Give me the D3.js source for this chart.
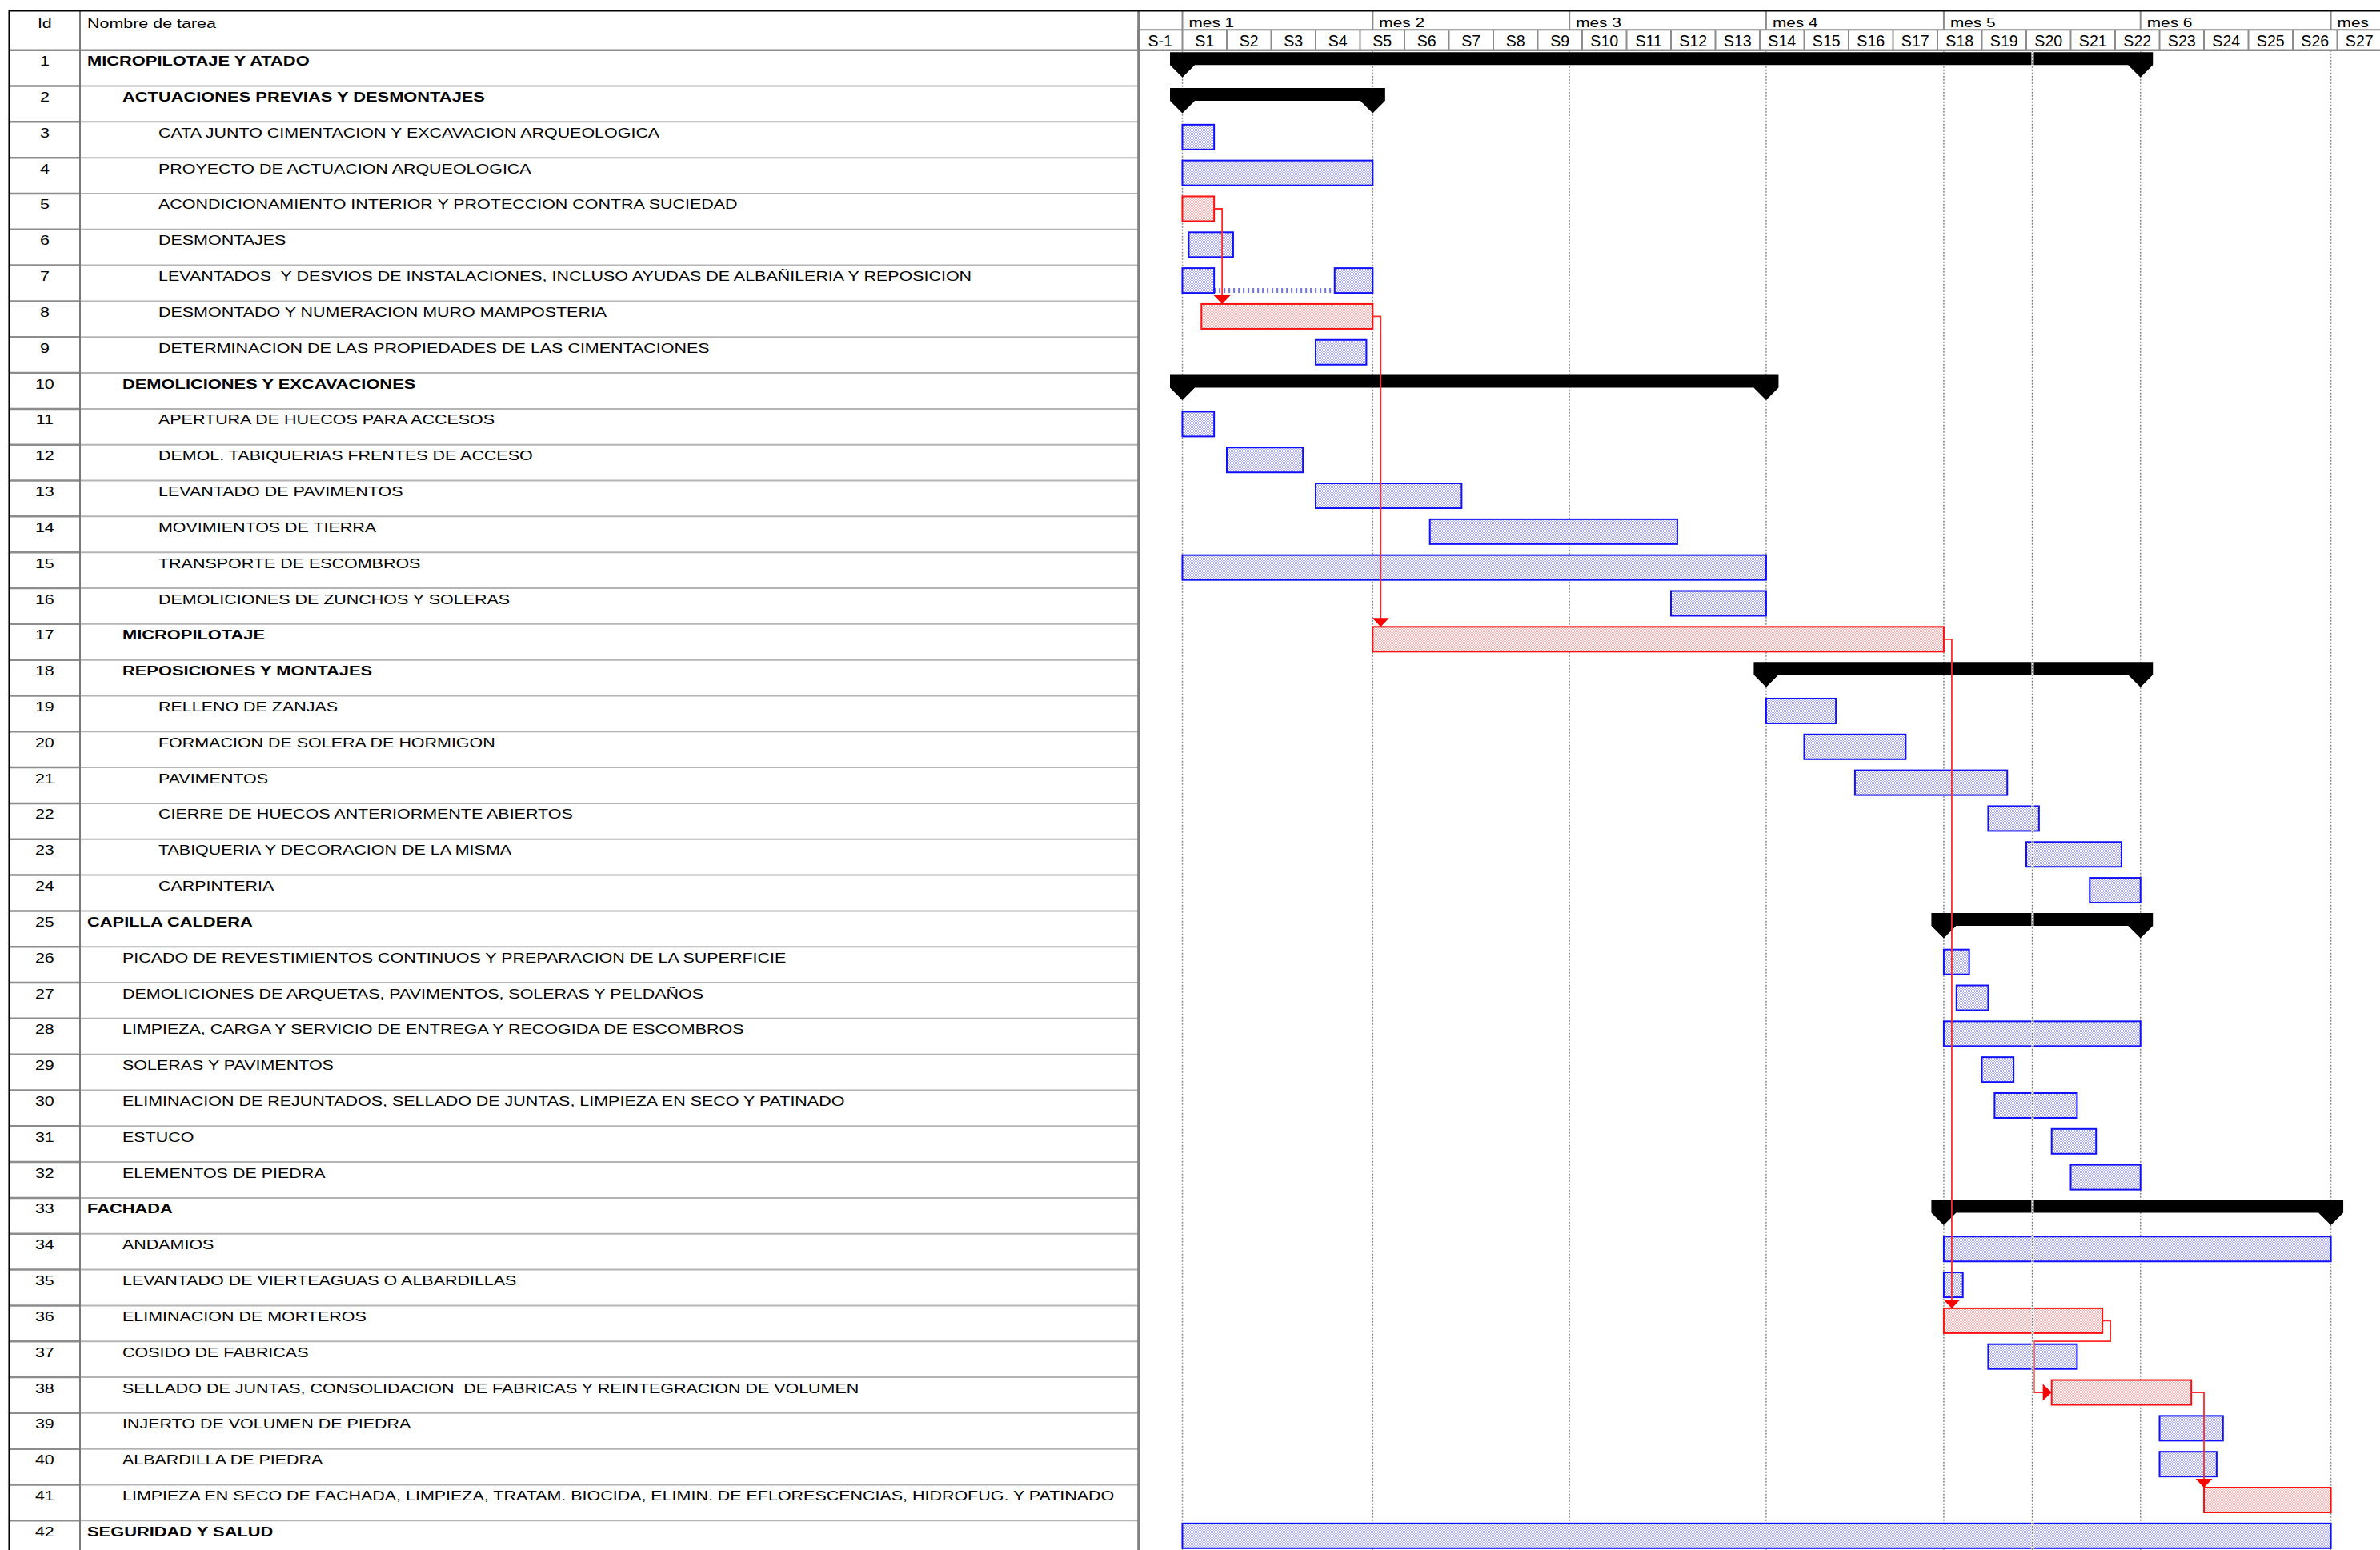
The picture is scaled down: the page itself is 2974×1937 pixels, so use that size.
<!DOCTYPE html>
<html>
<head>
<meta charset="utf-8">
<script src="https://cdn.jsdelivr.net/npm/d3@7"></script>
<style>
  html, body { margin: 0; padding: 0; background: #fff; }
  svg { display: block; }
  text { font-family: "Liberation Sans", Arial, sans-serif; fill: #000; white-space: pre; }
</style>
</head>
<body>
<div id="chart"></div>
<script>
// ---- data (days counted from start of S1) ----
const taskNames = [
  'MICROPILOTAJE Y ATADO',
  'ACTUACIONES PREVIAS Y DESMONTAJES',
  'CATA JUNTO CIMENTACION Y EXCAVACION ARQUEOLOGICA',
  'PROYECTO DE ACTUACION ARQUEOLOGICA',
  'ACONDICIONAMIENTO INTERIOR Y PROTECCION CONTRA SUCIEDAD',
  'DESMONTAJES',
  'LEVANTADOS  Y DESVIOS DE INSTALACIONES, INCLUSO AYUDAS DE ALBAÑILERIA Y REPOSICION',
  'DESMONTADO Y NUMERACION MURO MAMPOSTERIA',
  'DETERMINACION DE LAS PROPIEDADES DE LAS CIMENTACIONES',
  'DEMOLICIONES Y EXCAVACIONES',
  'APERTURA DE HUECOS PARA ACCESOS',
  'DEMOL. TABIQUERIAS FRENTES DE ACCESO',
  'LEVANTADO DE PAVIMENTOS',
  'MOVIMIENTOS DE TIERRA',
  'TRANSPORTE DE ESCOMBROS',
  'DEMOLICIONES DE ZUNCHOS Y SOLERAS',
  'MICROPILOTAJE',
  'REPOSICIONES Y MONTAJES',
  'RELLENO DE ZANJAS',
  'FORMACION DE SOLERA DE HORMIGON',
  'PAVIMENTOS',
  'CIERRE DE HUECOS ANTERIORMENTE ABIERTOS',
  'TABIQUERIA Y DECORACION DE LA MISMA',
  'CARPINTERIA',
  'CAPILLA CALDERA',
  'PICADO DE REVESTIMIENTOS CONTINUOS Y PREPARACION DE LA SUPERFICIE',
  'DEMOLICIONES DE ARQUETAS, PAVIMENTOS, SOLERAS Y PELDAÑOS',
  'LIMPIEZA, CARGA Y SERVICIO DE ENTREGA Y RECOGIDA DE ESCOMBROS',
  'SOLERAS Y PAVIMENTOS',
  'ELIMINACION DE REJUNTADOS, SELLADO DE JUNTAS, LIMPIEZA EN SECO Y PATINADO',
  'ESTUCO',
  'ELEMENTOS DE PIEDRA',
  'FACHADA',
  'ANDAMIOS',
  'LEVANTADO DE VIERTEAGUAS O ALBARDILLAS',
  'ELIMINACION DE MORTEROS',
  'COSIDO DE FABRICAS',
  'SELLADO DE JUNTAS, CONSOLIDACION  DE FABRICAS Y REINTEGRACION DE VOLUMEN',
  'INJERTO DE VOLUMEN DE PIEDRA',
  'ALBARDILLA DE PIEDRA',
  'LIMPIEZA EN SECO DE FACHADA, LIMPIEZA, TRATAM. BIOCIDA, ELIMIN. DE EFLORESCENCIAS, HIDROFUG. Y PATINADO',
  'SEGURIDAD Y SALUD'
]
const taskLevels = [0,1,2,2,2,2,2,2,2,1,2,2,2,2,2,2,1,1,2,2,2,2,2,2,0,1,1,1,1,1,1,1,0,1,1,1,1,1,1,1,1,0]
// s = summary, t = task, c = critical task
const taskKinds = ['s','s','t','t','c','t','t','c','t','s','t','t','t','t','t','t','c','s','t','t','t','t','t','t',
  's','t','t','t','t','t','t','t','s','t','t','c','t','c','t','t','c','t']
const boldIds = [1, 2, 10, 17, 18, 25, 33, 42]
const taskStart = [0,0,0,0,0,1,0,3,21,0,0,7,21,39,0,77,30,92,92,98,106,127,133,143,
  120,120,122,120,126,128,137,140,120,120,120,120,127,137,154,154,161,0]
const taskEnd = [151,30,5,30,5,8,30,30,29,92,5,19,44,78,92,92,120,151,103,114,130,135,148,151,
  151,124,127,151,131,141,144,151,181,181,123,145,141,159,164,163,181,181]
const splitTask = 7
const splitSegments = [[0, 5], [24, 30]]
const links = [[5, 8, 'down'], [8, 17, 'down'], [17, 36, 'down'], [36, 38, 'wrap'], [38, 41, 'down']]

const weekLabels = ['S-1','S1','S2','S3','S4','S5','S6','S7','S8','S9','S10','S11','S12','S13','S14',
  'S15','S16','S17','S18','S19','S20','S21','S22','S23','S24','S25','S26','S27']
const monthLabels = ['mes 1','mes 2','mes 3','mes 4','mes 5','mes 6','mes']
const monthStarts = [0, 30, 61, 92, 120, 151, 181]
const statusDay = 134

// ---- layout ----
const W = 2974, H = 1937
const topY = 13.3, midY = 37.3, headY = 62.7, rowH = 44.82
const leftX = 11.7, idX = 100, splitX = 1422.7
const fs = 16.4, sx = 1.27
const rowFs = 17.2, rowSx = 1.248, boldSx = 1.272
const indent = [109, 153, 198]

const x = d3.scaleLinear().domain([-7, 189]).range([1422, 2976])
const rowTop = i => headY + (i - 1) * rowH

const svg = d3.select('#chart').append('svg')
  .attr('width', W).attr('height', H)

const defs = svg.append('defs')
const pat = (id, c) => {
  const p = defs.append('pattern').attr('id', id).attr('width', 2).attr('height', 2)
    .attr('patternUnits', 'userSpaceOnUse')
  p.append('rect').attr('width', 2).attr('height', 2).attr('fill', '#fff')
  p.append('rect').attr('width', 1).attr('height', 1).attr('fill', c)
  p.append('rect').attr('x', 1).attr('y', 1).attr('width', 1).attr('height', 1).attr('fill', c)
}
pat('pBlue', '#a9a9ff')
pat('pRed', '#ffacac')
defs.append('clipPath').attr('id', 'clipT').append('rect')
  .attr('x', splitX).attr('y', 0).attr('width', W - splitX).attr('height', H)

const label = (g, str, tx, ty, opt = {}) => g.append('text')
  .attr('transform', `translate(${tx},${ty}) scale(${opt.sx || sx},1)`)
  .attr('text-anchor', opt.anchor || 'start')
  .attr('font-size', opt.fs || fs)
  .attr('font-weight', opt.bold ? 'bold' : 'normal')
  .text(str)

const chart = svg.append('g').attr('clip-path', 'url(#clipT)')

// month gridlines
chart.append('g').selectAll('line').data(monthStarts).join('line')
  .attr('x1', d => x(d)).attr('x2', d => x(d))
  .attr('y1', headY).attr('y2', H)
  .attr('stroke', '#8a8a8a').attr('stroke-width', 1.5).attr('stroke-dasharray', '2,2')

// bars
const tasks = taskNames.map((n, i) => ({
  id: i + 1, name: n, level: taskLevels[i], kind: taskKinds[i], start: taskStart[i], end: taskEnd[i]
}))

const summaryPath = (x1, x2, t) => {
  const cw = 15.5, ch = 16, tip = 31.5
  return `M${x1 - cw},${t}H${x2 + cw}V${t + ch}L${x2},${t + tip}L${x2 - cw},${t + ch}` +
    `H${x1 + cw}L${x1},${t + tip}L${x1 - cw},${t + ch}Z`
}

const bars = chart.append('g')
tasks.forEach(d => {
  const t = rowTop(d.id)
  if (d.kind === 's') {
    bars.append('path').attr('d', summaryPath(x(d.start), x(d.end), t + 2.5)).attr('fill', '#000')
    return
  }
  const segs = d.id === splitTask ? splitSegments : [[d.start, d.end]]
  const red = d.kind === 'c'
  if (segs.length > 1) {
    bars.append('line')
      .attr('x1', x(segs[0][1])).attr('x2', x(segs[1][0]))
      .attr('y1', t + 31.5).attr('y2', t + 31.5)
      .attr('stroke', '#7070ff').attr('stroke-width', 6).attr('stroke-dasharray', '2,4')
  }
  bars.selectAll(null).data(segs).enter().append('rect')
    .attr('x', s => x(s[0])).attr('width', s => x(s[1]) - x(s[0]))
    .attr('y', t + 3.5).attr('height', 31)
    .attr('fill', red ? 'url(#pRed)' : 'url(#pBlue)')
    .attr('stroke', red ? '#ff1010' : '#1010ff').attr('stroke-width', 2)
})

// links (critical path)
const lg = chart.append('g')
links.forEach(([a, b, mode]) => {
  const p = tasks[a - 1], s = tasks[b - 1]
  const pe = x(p.end), pm = rowTop(a) + 19, ss = x(s.start), st = rowTop(b) + 3.5
  let path, head
  if (mode === 'down') {
    const ax = Math.max(pe + 10, ss)
    path = `M${pe},${pm}H${ax}V${st - 10}`
    head = `M${ax - 10.5},${st - 11}H${ax + 10.5}L${ax},${st}Z`
  } else {
    const by = rowTop(a + 1), sm = rowTop(b) + 19, vx = ss - 22
    path = `M${pe},${pm}H${pe + 10}V${by}H${vx}V${sm}H${ss - 10}`
    head = `M${ss - 11},${sm - 10.5}V${sm + 10.5}L${ss},${sm}Z`
  }
  lg.append('path').attr('d', path).attr('fill', 'none')
    .attr('stroke', '#ff2a2a').attr('stroke-width', 1.8)
  lg.append('path').attr('d', head).attr('fill', '#ff0000')
})

// status line
chart.append('line').attr('x1', x(statusDay)).attr('x2', x(statusDay))
  .attr('y1', headY).attr('y2', H).attr('stroke', '#fff').attr('stroke-width', 3)
chart.append('line').attr('x1', x(statusDay)).attr('x2', x(statusDay))
  .attr('y1', headY).attr('y2', H).attr('stroke', '#7a7a7a').attr('stroke-width', 2.2)
  .attr('stroke-dasharray', '2,2')

// ---- table ----
const table = svg.append('g')
tasks.forEach(d => {
  const yb = rowTop(d.id) + rowH
  const bold = boldIds.includes(d.id)
  table.append('line').attr('x1', leftX).attr('x2', idX).attr('y1', yb).attr('y2', yb)
    .attr('stroke', '#8c8c8c').attr('stroke-width', 2.5)
  table.append('line').attr('x1', idX).attr('x2', splitX).attr('y1', yb).attr('y2', yb)
    .attr('stroke', '#b4b4b4').attr('stroke-width', 2)
  label(table, String(d.id), (leftX + idX) / 2, rowTop(d.id) + 19.5,
    { anchor: 'middle', fs: rowFs, sx: rowSx })
  label(table, d.name, indent[d.level], rowTop(d.id) + 19.5,
    { bold, fs: rowFs, sx: bold ? boldSx : rowSx })
})
label(table, 'Id', (leftX + idX) / 2, 35, { anchor: 'middle', fs: rowFs, sx: rowSx })
label(table, 'Nombre de tarea', 109, 35, { fs: rowFs, sx: rowSx })

// ---- timescale header ----
const head = svg.append('g')
const weekStarts = weekLabels.map((l, i) => (i - 1) * 7)
head.append('line').attr('x1', splitX).attr('x2', W).attr('y1', midY).attr('y2', midY)
  .attr('stroke', '#8c8c8c').attr('stroke-width', 2)
head.selectAll('.wk').data(weekStarts).join('line').attr('class', 'wk')
  .attr('x1', d => x(d)).attr('x2', d => x(d)).attr('y1', midY).attr('y2', headY)
  .attr('stroke', '#8c8c8c').attr('stroke-width', 2)
head.selectAll('.mo').data(monthStarts).join('line').attr('class', 'mo')
  .attr('x1', d => x(d)).attr('x2', d => x(d)).attr('y1', topY).attr('y2', midY)
  .attr('stroke', '#8c8c8c').attr('stroke-width', 2)
weekLabels.forEach((l, i) => label(head, l, x(weekStarts[i] + 3.5), 57.5,
  { anchor: 'middle', fs: 20, sx: 0.98 }))
monthLabels.forEach((l, i) => label(head, l, x(monthStarts[i]) + 8, 34))

// frame lines
svg.append('line').attr('x1', leftX).attr('x2', W).attr('y1', headY).attr('y2', headY)
  .attr('stroke', '#8c8c8c').attr('stroke-width', 2.5)
svg.append('line').attr('x1', idX).attr('x2', idX).attr('y1', topY).attr('y2', H)
  .attr('stroke', '#7a7a7a').attr('stroke-width', 2)
svg.append('line').attr('x1', splitX).attr('x2', splitX).attr('y1', topY).attr('y2', H)
  .attr('stroke', '#808080').attr('stroke-width', 3)
svg.append('line').attr('x1', leftX).attr('x2', leftX).attr('y1', topY - 1.2).attr('y2', H)
  .attr('stroke', '#000').attr('stroke-width', 2.5)
svg.append('line').attr('x1', leftX).attr('x2', W).attr('y1', topY).attr('y2', topY)
  .attr('stroke', '#000').attr('stroke-width', 2.5)
</script>
</body>
</html>
